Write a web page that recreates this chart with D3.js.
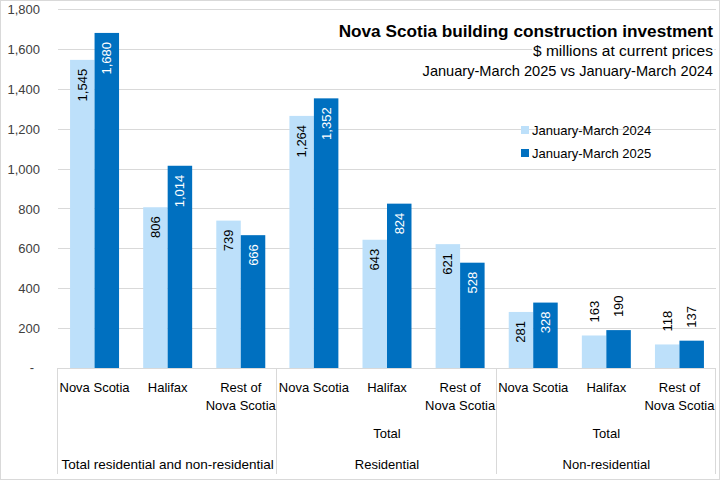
<!DOCTYPE html>
<html><head><meta charset="utf-8">
<script src="https://cdn.jsdelivr.net/npm/d3@7"></script>
<style>html,body{margin:0;padding:0;background:#fff;}svg{display:block;}</style>
</head><body>
<svg id="chart" width="721" height="481"></svg>
<script>
const categories = ["Nova Scotia","Halifax","Rest of\nNova Scotia","Nova Scotia","Halifax","Rest of\nNova Scotia","Nova Scotia","Halifax","Rest of\nNova Scotia"];
const midLabels = ["", "Total", "Total"];
const groups = ["Total residential and non-residential","Residential","Non-residential"];
const seriesNames = ["January-March 2024","January-March 2025"];
const values2024 = [1545, 806, 739, 1264, 643, 621, 281, 163, 118];
const values2025 = [1680, 1014, 666, 1352, 824, 528, 328, 190, 137];
const yTicks = [0,200,400,600,800,1000,1200,1400,1600,1800];
const titleLines = ["Nova Scotia building construction investment","$ millions at current prices","January-March 2025 vs January-March 2024"];

(function(){
const colors = ["#BDE0FA","#0070C0"];
const font = "'Liberation Sans', Arial, sans-serif";
const svg = d3.select("#chart");
svg.append("rect").attr("x",0.5).attr("y",0.5).attr("width",719).attr("height",479)
  .attr("fill","#fff").attr("stroke","#D9D9D9");

const pLeft=58, pRight=716, pTop=9, pBottom=368;
const x = d3.scaleBand().domain(d3.range(categories.length)).range([pLeft,pRight]).padding(0);
const bw = x.bandwidth();
const xs = d3.scaleBand().domain([0,1]).range([bw*0.165, bw*0.835]).padding(0);
const y = d3.scaleLinear().domain([0,1800]).range([pBottom,pTop]);

svg.append("g").selectAll("line").data(yTicks.filter(d=>d>0)).join("line")
  .attr("x1",pLeft).attr("x2",pRight).attr("y1",d=>Math.round(y(d))+0.5).attr("y2",d=>Math.round(y(d))+0.5)
  .attr("stroke","#D9D9D9").attr("stroke-width",1);

const yAxis = d3.axisLeft(y).tickValues(yTicks).tickSize(0).tickPadding(0)
  .tickFormat(d=> d===0 ? "-" : d3.format(",")(d));
const ya = svg.append("g").attr("transform","translate(40,0)").call(yAxis);
ya.select(".domain").remove();
ya.selectAll("text").attr("font-family",font).attr("font-size",13).attr("fill","#404040")
  .attr("dy","0.35em");
ya.selectAll(".tick").filter(d=>d===0).select("text").attr("x",-6).attr("dy","0.25em");

const data = categories.map((c,i)=>({i, vals:[values2024[i], values2025[i]]}));
const bars = svg.append("g");
data.forEach(d=>{
  d.vals.forEach((v,s)=>{
    bars.append("rect").attr("x",x(d.i)+xs(s)).attr("width",xs.bandwidth())
      .attr("y",y(v)).attr("height",y(0)-y(v)).attr("fill",colors[s]);
  });
});

const labels = svg.append("g");
data.forEach(d=>{
  d.vals.forEach((v,s)=>{
    const cx = x(d.i)+xs(s)+xs.bandwidth()/2;
    const inside = v >= 250;
    const ty = inside ? y(v)+9 : y(v)-13;
    labels.append("text")
      .attr("transform",`translate(${cx+4.5},${ty}) rotate(-90)`)
      .attr("text-anchor", inside ? "end" : "start")
      .attr("font-family",font).attr("font-size",13)
      .attr("fill", inside && s===1 ? "#fff" : "#000")
      .text(d3.format(",")(v));
  });
});

svg.append("line").attr("x1",pLeft).attr("x2",pRight).attr("y1",pBottom+0.5).attr("y2",pBottom+0.5)
  .attr("stroke","#D9D9D9");
const seps = [0,3,6,9].map(k=> k<9 ? x(k) : pRight);
svg.append("g").selectAll("line").data(seps).join("line")
  .attr("x1",d=>Math.round(d)-0.5).attr("x2",d=>Math.round(d)-0.5).attr("y1",pBottom).attr("y2",474)
  .attr("stroke","#D9D9D9");

const cl = svg.append("g").attr("font-family",font).attr("font-size",13).attr("fill","#000").attr("text-anchor","middle");
categories.forEach((c,i)=>{
  const lines = c.split("\n");
  const t = cl.append("text").attr("x",x(i)+bw/2).attr("y",392);
  lines.forEach((ln,j)=> t.append("tspan").attr("x",x(i)+bw/2).attr("dy", j===0?0:18).text(ln));
});
groups.forEach((g,k)=>{
  const cx = (seps[k]+seps[k+1])/2;
  if (midLabels[k]) cl.append("text").attr("x",cx).attr("y",438).text(midLabels[k]);
  cl.append("text").attr("x",cx).attr("y",469).attr("font-size",k===0?13.5:13).text(g);
});

const tg = svg.append("g").attr("font-family",font).attr("text-anchor","end").attr("fill","#000");
const tys = [37,56,76];
const tsz = [17.2,15.5,14.6];
titleLines.forEach((t,j)=>{
  const el = tg.append("text").attr("x",713).attr("y",tys[j])
    .attr("font-size", tsz[j]).attr("font-weight", j===0?"bold":"normal").text(t);
  const bb = el.node().getBBox();
  tg.insert("rect","text").attr("x",bb.x-1).attr("y",bb.y+1).attr("width",bb.width+2).attr("height",bb.height-2).attr("fill","#fff");
});

const lg = svg.append("g").attr("font-family",font).attr("font-size",13);
seriesNames.forEach((n,j)=>{
  const ly = 130 + j*23;
  lg.append("rect").attr("x",521).attr("y",ly-4).attr("width",8).attr("height",8).attr("fill",colors[j]);
  lg.append("text").attr("x",532).attr("y",ly).attr("dy","0.35em").text(n);
});
})();
</script>
</body></html>
